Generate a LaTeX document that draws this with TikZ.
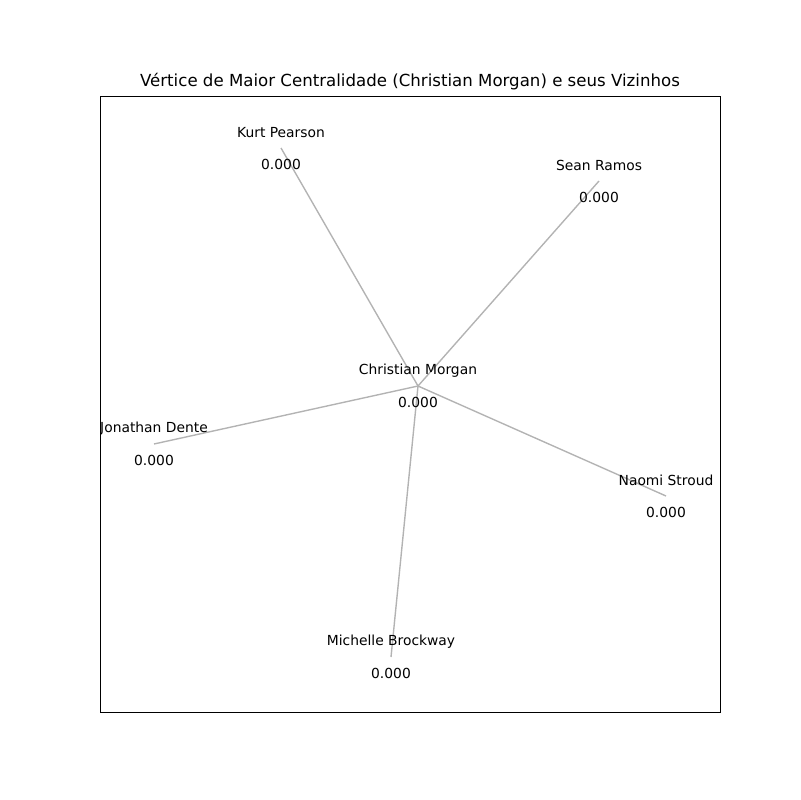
\documentclass[tikz,border=0pt]{standalone}
\usepackage{fontspec}
\setmainfont{DejaVu Sans}
\usetikzlibrary{positioning,calc}
\definecolor{edgegray}{HTML}{B3B3B3}

\begin{document}
\begin{tikzpicture}[
  x=0.01in,y=-0.01in,
  lbl/.style={inner sep=0pt,font=\fontsize{10}{12}\selectfont},
  edge/.style={draw=edgegray,line width=1pt},
]
  \useasboundingbox (0,0) rectangle (800,800);
  % vertices (positions of the layout)
  \coordinate (cm) at (418,386);
  \coordinate (kp) at (281,148);
  \coordinate (sr) at (599,181);
  \coordinate (jd) at (154,444);
  \coordinate (ns) at (666,496);
  \coordinate (mb) at (391,657);
  % edges
  \foreach \v in {kp,sr,jd,ns,mb}
    \draw[edge] (cm) -- (\v);
  % names and centrality values
  \begin{scope}
    \clip (100,96) rectangle (720,712);
    \foreach \v/\name in {cm/Christian Morgan,kp/Kurt Pearson,sr/Sean Ramos,
        jd/Jonathan Dente,ns/Naomi Stroud,mb/Michelle Brockway}{
      \node[lbl] (\v-name) at ([yshift=11pt]\v) {\name};
      \node[lbl] (\v-val) at ([yshift=-11.9pt]\v) {0.000};
    }
  \end{scope}
  % axes frame and title
  \draw[line width=0.6pt] (100,96) rectangle (720,712);
  \node[inner sep=0pt,font=\fontsize{12}{14}\selectfont] (title) at (410,82)
    {Vértice de Maior Centralidade (Christian Morgan) e seus Vizinhos};
\end{tikzpicture}
\end{document}
